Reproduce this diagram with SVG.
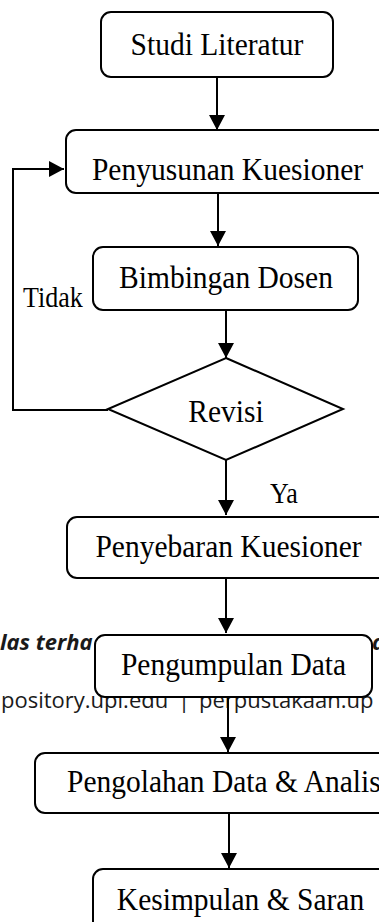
<svg xmlns="http://www.w3.org/2000/svg" width="379" height="922" viewBox="0 0 379 922">
<style>
.box{fill:#fff;stroke:#000;stroke-width:2}
.lbl{font-family:"Liberation Serif","Times New Roman",serif;font-size:29.5px;fill:#000;text-anchor:middle}
.yn{font-family:"Liberation Serif","Times New Roman",serif;font-size:26px;fill:#000}
.wm{font-family:"Open Sans","DejaVu Sans",sans-serif;font-size:22px;fill:#1a1a1a}
.wmb{font-family:"Open Sans","DejaVu Sans",sans-serif;font-size:22px;font-weight:bold;font-style:italic;fill:#1a1a1a}
.con{fill:none;stroke:#000;stroke-width:2}
</style>
<defs>
<marker id="ah" markerUnits="userSpaceOnUse" markerWidth="16" markerHeight="16" refX="15" refY="8" orient="auto">
<path d="M0,0 L15,8 L0,16 Z" fill="#000"/>
</marker>
</defs>
<rect width="379" height="922" fill="#fff"/>
<g id="watermark">
<text class="wmb" x="0" y="650">las terha</text>
<text class="wmb" x="372" y="650">a</text>
<text class="wm" x="1" y="708">pository.upi.edu</text>
<text class="wm" x="178" y="708" fill="#f5b700">|</text>
<text class="wm" x="199" y="708">perpustakaan.up</text>
</g>
<g id="connectors">
<line class="con" x1="217" y1="77" x2="217" y2="130" marker-end="url(#ah)"/>
<line class="con" x1="218" y1="193" x2="218" y2="246" marker-end="url(#ah)"/>
<line class="con" x1="226" y1="310" x2="226" y2="358" marker-end="url(#ah)"/>
<line class="con" x1="226" y1="460" x2="226" y2="515" marker-end="url(#ah)"/>
<line class="con" x1="226" y1="578" x2="226" y2="633" marker-end="url(#ah)"/>
<line class="con" x1="228" y1="697" x2="228" y2="752" marker-end="url(#ah)"/>
<line class="con" x1="229" y1="813" x2="229" y2="868" marker-end="url(#ah)"/>
<polyline class="con" points="108,410 13,410 13,169 64,169" marker-end="url(#ah)"/>
<text class="yn" transform="matrix(1 0 0 1.1 270 503)">Ya</text>
<text class="yn" transform="matrix(1 0 0 1.1 23 307)">Tidak</text>
</g>
<g id="n1"><rect class="box" x="101" y="12" width="232" height="65" rx="10"/><text class="lbl" transform="matrix(1 0 0 1.1 217 55)">Studi Literatur</text></g>
<g id="n2"><rect class="box" x="66" y="130" width="340" height="63" rx="10"/><text class="lbl" transform="matrix(1 0 0 1.1 227.5 180)">Penyusunan Kuesioner</text></g>
<g id="n3"><rect class="box" x="93" y="247" width="265" height="63" rx="10"/><text class="lbl" transform="matrix(1 0 0 1.1 226 288)">Bimbingan Dosen</text></g>
<g id="n4"><polygon class="box" points="226,358 343,409 226,460 108,409"/><text class="lbl" transform="matrix(1 0 0 1.1 226 422)">Revisi</text></g>
<g id="n5"><rect class="box" x="67" y="517" width="340" height="61" rx="10"/><text class="lbl" transform="matrix(1 0 0 1.1 228.5 557)">Penyebaran Kuesioner</text></g>
<g id="n6"><rect class="box" x="95" y="635" width="277" height="62" rx="10"/><text class="lbl" transform="matrix(1 0 0 1.1 233.5 675)">Pengumpulan Data</text></g>
<g id="n7"><rect class="box" x="35" y="753" width="370" height="60" rx="10"/><text class="lbl" transform="matrix(1 0 0 1.1 67 792)" style="text-anchor:start">Pengolahan Data &amp; Analis</text></g>
<g id="n8"><rect class="box" x="93" y="869" width="320" height="80" rx="10"/><text class="lbl" transform="matrix(1 0 0 1.1 240.5 910)">Kesimpulan &amp; Saran</text></g>
</svg>
